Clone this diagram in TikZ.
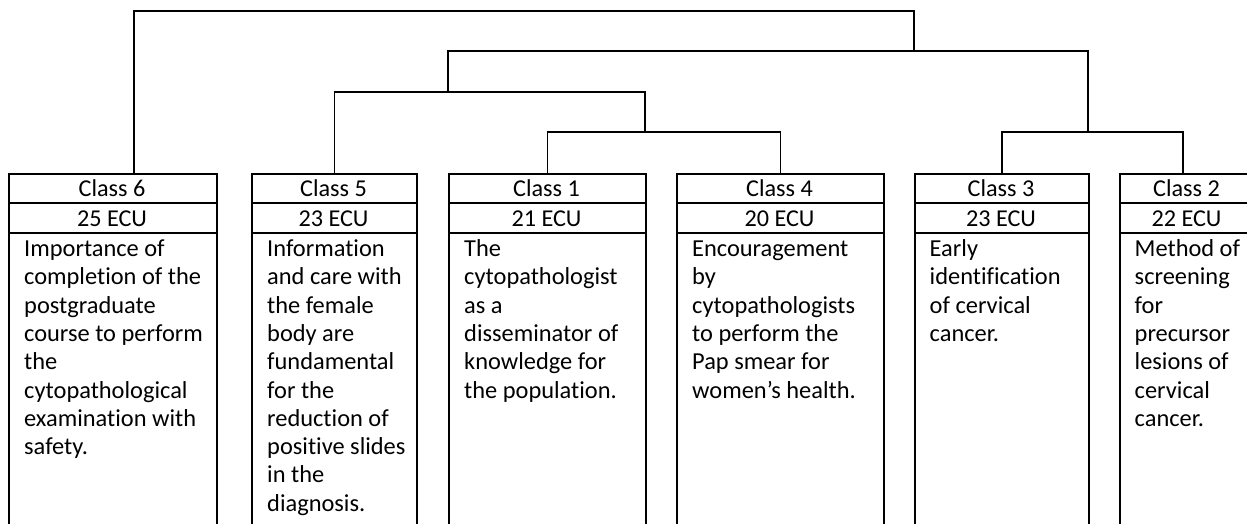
\documentclass[tikz,border=0pt]{standalone}
\usepackage{fontspec}
\setmainfont{Carlito}[Ligatures={TeX,NoCommon}]
\begin{document}
\begin{tikzpicture}[x=1pt,y=-1pt,
  ln/.style={line width=1.5pt, line join=miter},
  boxst/.style={draw, line width=1.5pt, anchor=north west, inner sep=0pt, minimum height=360pt},
  hd/.style={anchor=base, inner sep=0pt, font=\fontsize{24.2}{28.3}\selectfont},
  body/.style={anchor=base west, inner sep=0pt, font=\fontsize{24.4}{28.3}\selectfont}]
\useasboundingbox (0,0) rectangle (1247,524);
% boxes
\node[boxst, minimum width=208pt] (c6) at (8,173) {};
\node[boxst, minimum width=165pt] (c5) at (251,173) {};
\node[boxst, minimum width=197pt] (c1) at (448,173) {};
\node[boxst, minimum width=207pt] (c4) at (676,173) {};
\node[boxst, minimum width=174pt] (c3) at (914,173) {};
\node[boxst, minimum width=135pt] (c2) at (1119,173) {};
% row separators
\foreach \b in {c6,c5,c1,c4,c3,c2}{
  \draw[ln] (\b.west |- 0,203) -- (\b.east |- 0,203);
  \draw[ln] (\b.west |- 0,233) -- (\b.east |- 0,233);
}
% headers
\node[hd] (c6h) at (112,196) {Class 6};
\node[hd] (c6e) at (112,226) {25 ECU};
\node[hd] (c5h) at (333.5,196) {Class 5};
\node[hd] (c5e) at (333.5,226) {23 ECU};
\node[hd] (c1h) at (546.5,196) {Class 1};
\node[hd] (c1e) at (546.5,226) {21 ECU};
\node[hd] (c4h) at (779.5,196) {Class 4};
\node[hd] (c4e) at (779.5,226) {20 ECU};
\node[hd] (c3h) at (1001,196) {Class 3};
\node[hd] (c3e) at (1001,226) {23 ECU};
\node[hd] (c2h) at (1186.5,196) {Class 2};
\node[hd] (c2e) at (1186.5,226) {22 ECU};
% body texts
\node[body] (c6t) at (24,256.5) {\parbox[t]{200pt}{\raggedright Importance of\\completion of the\\postgraduate\\course to perform\\the\\cytopathological\\examination with\\safety.}};
\node[body] (c5t) at (267,256.5) {\parbox[t]{200pt}{\raggedright Information\\and care with\\the female\\body are\\fundamental\\for the\\reduction of\\positive slides\\in the\\diagnosis.}};
\node[body] (c1t) at (464,256.5) {\parbox[t]{200pt}{\raggedright The\\cytopathologist\\as a\\disseminator of\\knowledge for\\the population.}};
\node[body] (c4t) at (692,256.5) {\parbox[t]{200pt}{\raggedright Encouragement\\by\\cytopathologists\\to perform the\\Pap smear for\\women's health.}};
\node[body] (c3t) at (929.5,256.5) {\parbox[t]{200pt}{\raggedright Early\\identification\\of cervical\\cancer.}};
\node[body] (c2t) at (1134.5,256.5) {\parbox[t]{200pt}{\raggedright Method of\\screening\\for\\precursor\\lesions of\\cervical\\cancer.}};
% dendrogram junctions
\coordinate (s6) at (134,173);
\coordinate (s2) at (1183,173);
\coordinate (m14) at (645,132);
\coordinate (m514) at (448,92);
\coordinate (m32) at (1088,132);
\coordinate (m5143) at (914,51);
\coordinate (mtop) at (914,11);
\draw[ln] (c1.north) |- (m14) -| (c4.north);
\draw[ln] (c5.north) |- (m514) -| (m14);
\draw[ln] (c3.north) |- (m32) -| (s2);
\draw[ln] (m514) |- (m5143) -| (m32);
\draw[ln] (s6) |- (mtop) -- (m5143);
\end{tikzpicture}
\end{document}
